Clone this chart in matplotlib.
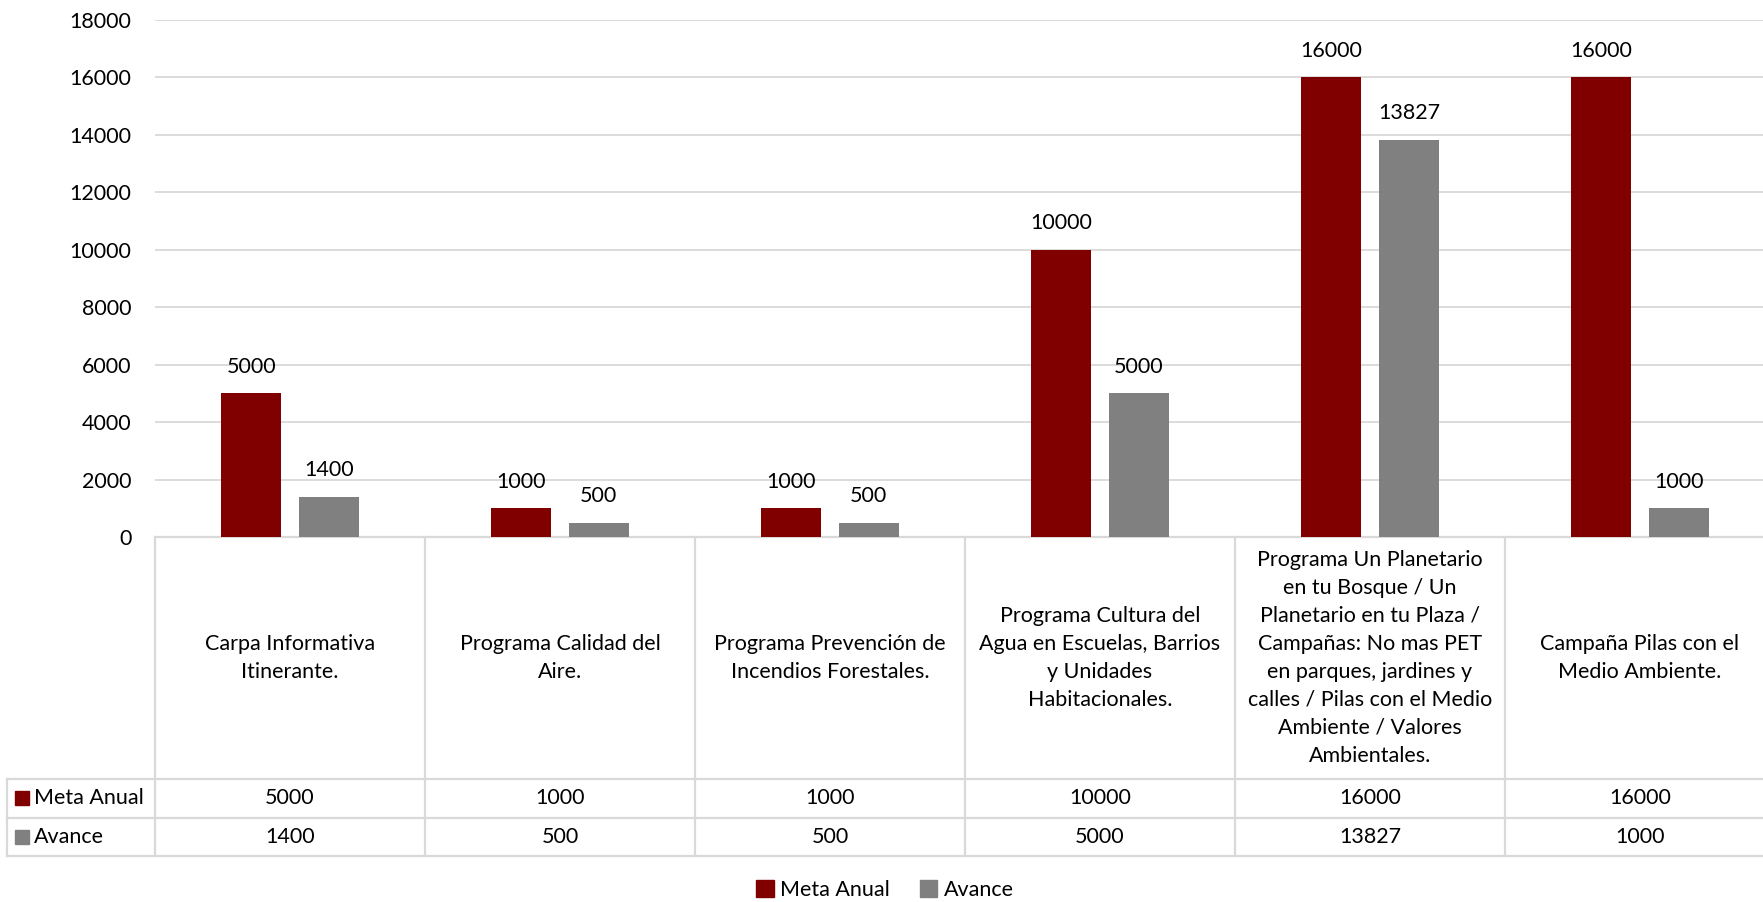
import matplotlib
matplotlib.use("Agg")
import matplotlib.pyplot as plt
from matplotlib.patches import Patch, Rectangle
from matplotlib.transforms import blended_transform_factory

plt.rcParams["font.family"] = ["Lato", "DejaVu Sans"]

categories = [
    "Carpa Informativa\nItinerante.",
    "Programa Calidad del\nAire.",
    "Programa Prevención de\nIncendios Forestales.",
    "Programa Cultura del\nAgua en Escuelas, Barrios\ny Unidades\nHabitacionales.",
    "Programa Un Planetario\nen tu Bosque / Un\nPlanetario en tu Plaza /\nCampañas: No mas PET\n"
    "en parques, jardines y\ncalles / Pilas con el Medio\nAmbiente / Valores\nAmbientales.",
    "Campaña Pilas con el\nMedio Ambiente.",
]
meta_anual = [5000, 1000, 1000, 10000, 16000, 16000]
avance = [1400, 500, 500, 5000, 13827, 1000]
series_names = ["Meta Anual", "Avance"]
yticks = [0, 2000, 4000, 6000, 8000, 10000, 12000, 14000, 16000, 18000]

RED, GRAY, LINE = "#800000", "#808080", "#d9d9d9"
FS = 15.5

W, H = 1763, 902
fig = plt.figure(figsize=(W / 100, H / 100), dpi=100)
# plot area in pixels: x 155..1775 (chart is cropped on the right), y 20..537
ax = fig.add_axes([155 / W, (H - 537) / H, 1620 / W, 517 / H])

x = list(range(len(categories)))
bw, off = 0.224, 0.144
ax.bar([i - off for i in x], meta_anual, bw, color=RED, zorder=3)
ax.bar([i + off for i in x], avance, bw, color=GRAY, zorder=3)
for i in x:
    ax.annotate(str(meta_anual[i]), (i - off, meta_anual[i]), xytext=(0, 19),
                textcoords="offset points", ha="center", va="center", fontsize=FS)
    ax.annotate(str(avance[i]), (i + off, avance[i]), xytext=(0, 19),
                textcoords="offset points", ha="center", va="center", fontsize=FS)

ax.set_xlim(-0.5, 5.5)
ax.set_ylim(0, 18000)
ax.set_yticks(yticks)
ax.set_yticklabels([str(v) for v in yticks], fontsize=FS)
ax.tick_params(axis="y", length=0, pad=17)
ax.set_xticks([])
ax.grid(axis="y", color=LINE, lw=1.3, zorder=0)
for s in ax.spines.values():
    s.set_visible(False)

# data table below the plot
tr = blended_transform_factory(ax.transData, ax.transAxes)
y_hdr, y_r1, y_r2 = -0.468, -0.5435, -0.617
x_left = -1.048
kw = dict(transform=tr, clip_on=False, color=LINE, lw=1.6)
for yy in (y_hdr, y_r1, y_r2):
    ax.plot([x_left, 5.6], [yy, yy], **kw)
ax.plot([-0.5, 5.6], [0, 0], **kw)
ax.plot([x_left, x_left], [y_hdr, y_r2], **kw)
for k in range(7):
    ax.plot([k - 0.5, k - 0.5], [0, y_r2], **kw)

for i, lab in enumerate(categories):
    ax.text(i, y_hdr / 2, lab, transform=tr, ha="center", va="center",
            fontsize=FS, linespacing=1.5)
    ax.text(i, (y_hdr + y_r1) / 2, str(meta_anual[i]), transform=tr,
            ha="center", va="center", fontsize=FS)
    ax.text(i, (y_r1 + y_r2) / 2, str(avance[i]), transform=tr,
            ha="center", va="center", fontsize=FS)

for (name, c, y0, y1) in [(series_names[0], RED, y_hdr, y_r1),
                          (series_names[1], GRAY, y_r1, y_r2)]:
    yc = (y0 + y1) / 2
    ax.add_patch(Rectangle((x_left + 0.03, yc - 0.0135), 0.052, 0.027,
                           transform=tr, clip_on=False, color=c))
    ax.text(x_left + 0.1, yc, name, transform=tr, ha="left", va="center",
            fontsize=FS)

handles = [Patch(color=RED, label=series_names[0]),
           Patch(color=GRAY, label=series_names[1])]
fig.legend(handles=handles, loc="center", bbox_to_anchor=(885 / W, 12 / H),
           ncol=2, frameon=False, fontsize=FS, handlelength=0.8,
           handleheight=0.8, handletextpad=0.3, columnspacing=1.4)

fig.savefig("out.png", dpi=100)
